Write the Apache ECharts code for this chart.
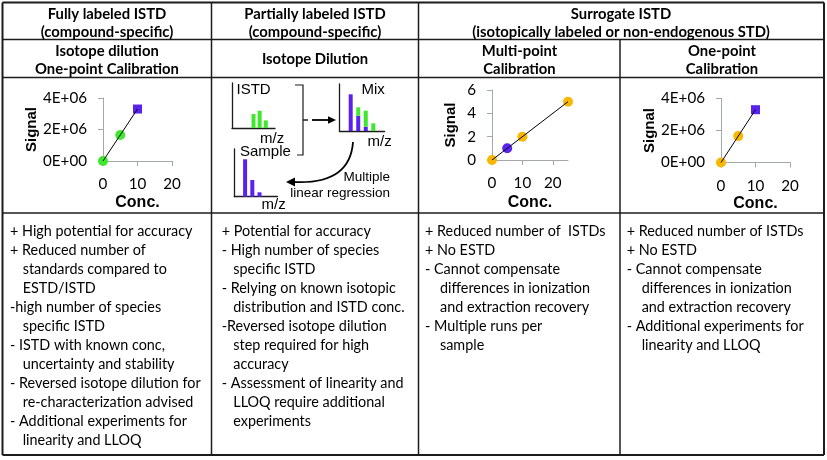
<!DOCTYPE html>
<html><head><meta charset="utf-8">
<script src="https://cdn.jsdelivr.net/npm/echarts@6/dist/echarts.min.js"></script>
<style>html,body{margin:0;padding:0;background:#fff}#c{width:827px;height:460px}</style>
</head><body><div id="c"></div>
<script>
// ---------------- data ----------------
// Fully labeled ISTD, one-point calibration (x: Conc., y: Signal)
const fullStdPoints = [[0, 0], [5, 1.65e6]];
const fullSamplePoints = [[10, 3.3e6]];
const fullFitLine = [[0, 0], [10, 3.3e6]];
// Surrogate ISTD, multi-point calibration
const multiStdPoints = [[0, 0], [10, 2], [25, 5]];
const multiSamplePoints = [[5, 1]];
const multiFitLine = [[0, 0], [25, 5]];
// Surrogate ISTD, one-point calibration
const oneStdPoints = [[0, 0], [5, 1.65e6]];
const oneSamplePoints = [[10, 3.3e6]];
const oneFitLine = [[0, 0], [10, 3.3e6]];
// tick labels
const concTicks = [0, 10, 20];
const sciSignalTicks = [0, 2e6, 4e6];
const multiSignalTicks = [0, 2, 4, 6];
// isotope dilution sketch spectra (relative intensities)
const istdMz = ['1', '2', '3', '4', '5', '6', '7'];
const istdIntensity = [null, null, null, 14, 17.3, 7.6, null];
const mixMz = ['1', '2', '3', '4', '5', '6'];
const mixSampleIntensity = [null, 36.7, 15.3, 4.3, null, null];
const mixIstdIntensity = [null, null, 8.4, 16, 7.7, null];
const sampleMz = ['1', '2', '3', '4', '5', '6'];
const sampleIntensity = [null, 37.4, 16.7, 4.4, null, null];
// table texts
const groupHeaders = [['Fully labeled ISTD', '(compound-specific)'], ['Partially labeled ISTD', '(compound-specific)'], ['Surrogate ISTD', '(isotopically labeled or non-endogenous STD)']];
const methodHeaders = [['Isotope dilution', 'One-point Calibration'], ['Isotope Dilution'], ['Multi-point', 'Calibration'], ['One-point', 'Calibration']];
const col1Items = [
  ['+ High potential for accuracy'],
  ['+ Reduced number of', 'standards compared to', 'ESTD/ISTD'],
  ['-high number of species', 'specific ISTD'],
  ['- ISTD with known conc,', 'uncertainty and stability'],
  ['- Reversed isotope dilution for', 're-characterization advised'],
  ['- Additional experiments for', 'linearity and LLOQ']
];
const col2Items = [
  ['+ Potential for accuracy'],
  ['- High number of species', 'specific ISTD'],
  ['- Relying on known isotopic', 'distribution and ISTD conc.'],
  ['-Reversed isotope dilution', 'step required for high', 'accuracy'],
  ['- Assessment of linearity and', 'LLOQ require additional', 'experiments']
];
const col3Items = [
  ['+ Reduced number of  ISTDs'],
  ['+ No ESTD'],
  ['- Cannot compensate', 'differences in ionization', 'and extraction recovery'],
  ['- Multiple runs per', 'sample']
];
const col4Items = [
  ['+ Reduced number of ISTDs'],
  ['+ No ESTD'],
  ['- Cannot compensate', 'differences in ionization', 'and extraction recovery'],
  ['- Additional experiments for', 'linearity and LLOQ']
];

// ---------------- styles ----------------
const LATO = 'Lato, Calibri, Carlito, sans-serif';
const ARIAL = '"Liberation Sans", Arial, Helvetica, sans-serif';
const GREEN = '#3fe82e';
const PURPLE = '#5a22f0';
const ORANGE = '#f8b700';
const AXIS = '#a3a8a8';
const LINE = '#1c1c1c';

function fit(weight, family, text, target) {
  const ctx = document.createElement('canvas').getContext('2d');
  ctx.font = weight + ' 100px ' + family;
  return 100 * target / ctx.measureText(text).width;
}
const headerSize = fit('bold', LATO, '(isotopically labeled or non-endogenous STD)', 298);
const bodySize = (fit('normal', LATO, '- Reversed isotope dilution for', 191.7) + fit('normal', LATO, '+ High potential for accuracy', 181.7)) / 2;
const tickSize = fit('normal', LATO, '4E+06', 44);

const sciFmt = v => v === 0 ? '0E+00' : (v / 1e6).toFixed(0) + 'E+06';

function calX(grid, max, gap) {
  return {
    gridIndex: grid, type: 'value', min: 0, max: max, interval: 10,
    axisLine: { show: true, onZero: false, lineStyle: { color: AXIS, width: 1 } },
    axisTick: { show: true, length: 5, lineStyle: { color: AXIS }, customValues: concTicks },
    axisLabel: { show: true, margin: 16, color: '#000', fontFamily: LATO, fontSize: tickSize, customValues: concTicks },
    splitLine: { show: false },
    name: 'Conc.', nameLocation: 'middle', nameGap: gap,
    nameTextStyle: { fontFamily: ARIAL, fontWeight: 'bold', fontSize: 16, color: '#000' }
  };
}
function calY(grid, max, interval, ticks, fmt, gap) {
  return {
    gridIndex: grid, type: 'value', min: 0, max: max, interval: interval,
    axisLine: { show: true, onZero: false, lineStyle: { color: AXIS, width: 1 } },
    axisTick: { show: true, length: 5, lineStyle: { color: AXIS }, customValues: ticks },
    axisLabel: { show: true, margin: 16, color: '#000', fontFamily: LATO, fontSize: tickSize, formatter: fmt, customValues: ticks },
    splitLine: { show: false },
    name: 'Signal', nameLocation: 'middle', nameGap: gap, nameMoveOverlap: false,
    nameTextStyle: { fontFamily: ARIAL, fontWeight: 'bold', fontSize: 15, color: '#000' }
  };
}
function specX(grid, cats) {
  return {
    gridIndex: grid, type: 'category', data: cats, boundaryGap: true,
    axisLine: { show: true, lineStyle: { color: LINE, width: 1.3 } },
    axisTick: { show: false }, axisLabel: { show: false }, splitLine: { show: false }
  };
}
function specY(grid, max) {
  return {
    gridIndex: grid, type: 'value', min: 0, max: max,
    axisLine: { show: true, lineStyle: { color: LINE, width: 1.3 } },
    axisTick: { show: false }, axisLabel: { show: false }, splitLine: { show: false }
  };
}
function scatter(ax, data, symbol, size, color) {
  return { type: 'scatter', xAxisIndex: ax, yAxisIndex: ax, data: data, symbol: symbol, symbolSize: size,
    itemStyle: { color: color, opacity: 1 }, z: 2, silent: true };
}
function fitLine(ax, data) {
  return { type: 'line', xAxisIndex: ax, yAxisIndex: ax, data: data, symbol: 'none', showSymbol: false,
    lineStyle: { color: '#000', width: 1 }, z: 5, silent: true };
}
function bars(ax, data, color, stack) {
  return { type: 'bar', xAxisIndex: ax, yAxisIndex: ax, data: data, barWidth: 4, stack: stack,
    itemStyle: { color: color }, silent: true };
}

// ---------------- graphic (table, labels, sketch) ----------------
const g = [];
function txt(s, x, y, o) {
  g.push({ type: 'text', silent: true, z: 10, style: Object.assign({ text: s, x: x, y: y, fill: '#000',
    fontFamily: LATO, fontSize: bodySize, fontWeight: 'normal', align: 'left', verticalAlign: 'middle' }, o || {}) });
}
function ln(x1, y1, x2, y2, w, c) {
  g.push({ type: 'line', silent: true, z: 10, shape: { x1: x1, y1: y1, x2: x2, y2: y2 }, style: { stroke: c || LINE, lineWidth: w || 1.5 } });
}
// table grid
const L = 2.5, R = 824, T = 2.5, B = 455;
ln(L, T, R, T, 2); ln(L, B, R, B, 2); ln(L, T, L, B, 2); ln(R, T, R, B, 2);
ln(L, 39.5, R, 39.5); ln(L, 77.5, R, 77.5); ln(L, 213, R, 213);
ln(211.5, T, 211.5, B); ln(418.5, T, 418.5, B); ln(620, 39.5, 620, B);
// headers
const hdr = { align: 'center', fontWeight: 'bold', fontSize: headerSize };
const groupX = [107, 315, 621];
groupHeaders.forEach((h, i) => h.forEach((s, j) => txt(s, groupX[i], 14 + 18 * j, hdr)));
const methodX = [107, 315, 519.5, 722];
methodHeaders.forEach((h, i) => {
  if (h.length === 1) txt(h[0], methodX[i], 59.5, hdr);
  else h.forEach((s, j) => txt(s, methodX[i], 51 + 18 * j, hdr));
});
// body notes
const colX = [10, 221.7, 425, 626.7];
const colIndent = [12.7, 11.6, 15, 15];
[col1Items, col2Items, col3Items, col4Items].forEach((items, c) => {
  let k = 0;
  items.forEach(item => item.forEach((s, j) => {
    txt(s, colX[c] + (j ? colIndent[c] : 0), 231 + 19 * k, {});
    k++;
  }));
});
// sketch labels
const sk = { fontFamily: ARIAL, fontSize: 15 };
txt('ISTD', 236.5, 90, sk);
txt('Mix', 361.5, 90, sk);
txt('Sample', 240, 152, sk);
txt('m/z', 260, 138.5, sk);
txt('m/z', 367.5, 142, sk);
txt('m/z', 261.5, 205, sk);
txt('Multiple', 390, 177.5, { fontFamily: ARIAL, fontSize: 13.5, align: 'right' });
txt('linear regression', 390, 193, { fontFamily: ARIAL, fontSize: 13.5, align: 'right' });
// bracket and arrows
g.push({ type: 'polyline', silent: true, z: 10, shape: { points: [[295, 85], [303, 85], [303, 155], [297, 155]] }, style: { stroke: LINE, lineWidth: 1.2, fill: null } });
ln(303, 120, 308, 120, 1.5);
ln(312, 120, 330, 120, 1.8, '#000');
g.push({ type: 'polygon', silent: true, z: 10, shape: { points: [[336, 120], [328, 116.3], [328, 123.7]] }, style: { fill: '#000' } });
g.push({ type: 'bezierCurve', silent: true, z: 10, shape: { x1: 353, y1: 142, cpx1: 350, cpy1: 185, x2: 293, y2: 182 }, style: { stroke: '#000', lineWidth: 1.8, fill: null } });
g.push({ type: 'polygon', silent: true, z: 10, shape: { points: [[286, 182], [295, 177.5], [295, 186.5]] }, style: { fill: '#000' } });

// ---------------- option ----------------
const gridBase = { containLabel: false, outerBoundsMode: 'none' };
const option = {
  animation: false,
  backgroundColor: '#fff',
  grid: [
    Object.assign({ left: 103, top: 98, width: 69, height: 63 }, gridBase),
    Object.assign({ left: 492, top: 90, width: 76, height: 70 }, gridBase),
    Object.assign({ left: 721, top: 98.5, width: 69, height: 64 }, gridBase),
    Object.assign({ left: 232, top: 83, width: 43, height: 45 }, gridBase),
    Object.assign({ left: 339.4, top: 84, width: 45.2, height: 47 }, gridBase),
    Object.assign({ left: 234.3, top: 149, width: 43.2, height: 47.7 }, gridBase)
  ],
  xAxis: [
    calX(0, 20, 34), calX(1, 25, 35), calX(2, 20, 33),
    specX(3, istdMz), specX(4, mixMz), specX(5, sampleMz)
  ],
  yAxis: [
    calY(0, 4e6, 2e6, sciSignalTicks, sciFmt, 64),
    calY(1, 6, 2, multiSignalTicks, null, 34),
    calY(2, 4e6, 2e6, sciSignalTicks, sciFmt, 64),
    specY(3, 45), specY(4, 47), specY(5, 47.7)
  ],
  series: [
    scatter(0, fullStdPoints, 'circle', 10, GREEN),
    scatter(0, fullSamplePoints, 'rect', 9, PURPLE),
    fitLine(0, fullFitLine),
    scatter(1, multiStdPoints, 'circle', 10, ORANGE),
    scatter(1, multiSamplePoints, 'circle', 10, PURPLE),
    fitLine(1, multiFitLine),
    scatter(2, oneStdPoints, 'circle', 10, ORANGE),
    scatter(2, oneSamplePoints, 'rect', 9, PURPLE),
    fitLine(2, oneFitLine),
    bars(3, istdIntensity, GREEN, null),
    bars(4, mixSampleIntensity, PURPLE, 'mix'),
    bars(4, mixIstdIntensity, GREEN, 'mix'),
    bars(5, sampleIntensity, PURPLE, null)
  ],
  graphic: g
};
const chart = echarts.init(document.getElementById('c'), null, { renderer: 'canvas' });
chart.setOption(option);
</script>
</body></html>
